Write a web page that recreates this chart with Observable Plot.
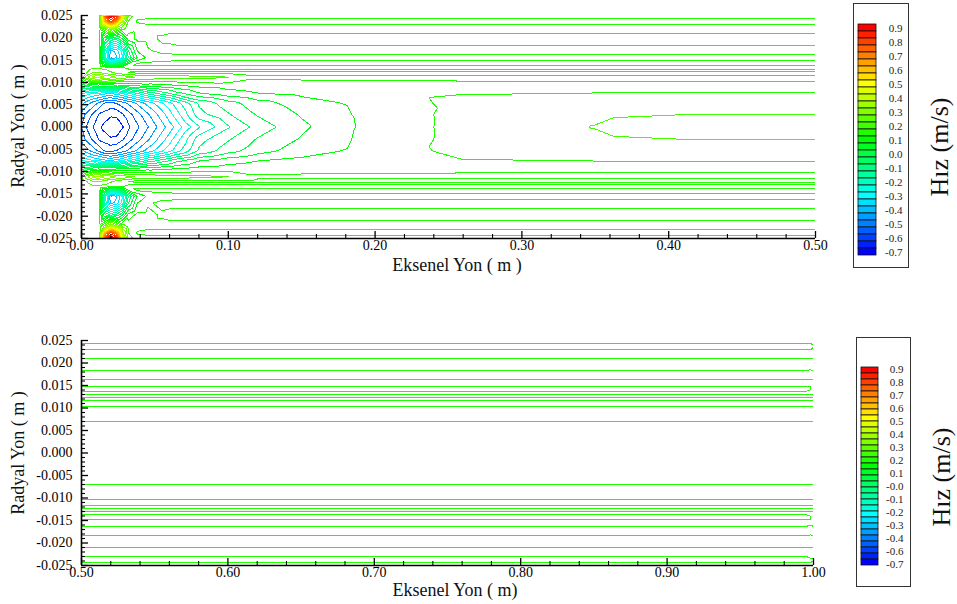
<!DOCTYPE html>
<html><head><meta charset="utf-8">
<script src="https://cdn.jsdelivr.net/npm/d3@7"></script>
<script src="https://cdn.jsdelivr.net/npm/@observablehq/plot@0.6"></script>
<style>
body{margin:0;background:#fff;}
#page{position:relative;width:957px;height:604px;font-family:"Liberation Serif","Times New Roman",serif;overflow:hidden;background:#fff}
.box{position:absolute}
.box svg{position:absolute;left:0;top:0;max-width:none}
.lbl{position:absolute;white-space:nowrap;color:#111;transform:translate(-50%,-50%)}
.rot{transform:translate(-50%,-50%) rotate(-90deg)}
</style></head><body><div id="page"></div>
<script>
// contour levels (legend bands)
const levels = [-0.7,-0.65,-0.6,-0.55,-0.5,-0.45,-0.4,-0.35,-0.3,-0.25,-0.2,-0.15,-0.1,-0.05,0,0.05,0.1,0.15,0.2,0.25,0.3,0.35,0.4,0.45,0.5,0.55,0.6,0.65,0.7,0.75,0.8,0.85,0.9];
const topLegendLabels = ["0.9","0.8","0.7","0.6","0.5","0.4","0.3","0.2","0.1","0.0","-0.1","-0.2","-0.3","-0.4","-0.5","-0.6","-0.7"];
const bottomLegendLabels = ["0.9","0.8","0.7","0.6","0.5","0.4","0.3","0.2","0.1","-0.0","-0.1","-0.2","-0.3","-0.4","-0.6","-0.7"];
const colorStops = [-0.7,-0.3,0.1,0.5,0.9];
const colorRange = ["#0000ff","#00ffff","#00ff00","#ffff00","#ff0000"];

// radial nodes (upper half; field is symmetric about the axis)
const rNodes = [0,0.0028,0.0054,0.0075,0.0092,0.0112,0.0121,0.0127,0.0133,0.0141,0.0155,0.017,0.0197,0.0222,0.0238,0.025];

// top panel: axial positions and velocity read at each radial node
const xTop = [0,0.004,0.008,0.012,0.016,0.02,0.024,0.028,0.032,0.038,0.045,0.055,0.065,0.08,0.1,0.12,0.15,0.19,0.22,0.26,0.3,0.35,0.4,0.5];
const uTop = [
 [-0.5,-0.47,-0.38,-0.25,-0.05,0.17,0.17,0.17,0.17,0.17,0.17,0.17,0.17,0.17,0.17,0.17],
 [-0.56,-0.52,-0.43,-0.28,-0.02,0.3,0.205,0.19,0.18,0.17,0.17,0.17,0.17,0.17,0.17,0.17],
 [-0.6,-0.56,-0.47,-0.305,0.005,0.38,0.26,0.22,0.19,0.17,0.17,0.17,0.17,0.17,0.17,0.17],
 [-0.64,-0.605,-0.51,-0.32,0.01,0.39,0.26,0.22,0.19,0.18,0.17,0.17,0.17,0.17,0.18,0.18],
 [-0.67,-0.62,-0.555,-0.34,0.01,0.36,0.23,0.21,0.18,0.04,-0.22,-0.21,-0.04,0.27,0.64,0.8],
 [-0.695,-0.64,-0.565,-0.355,0.01,0.33,0.21,0.19,0.17,-0.12,-0.46,-0.42,-0.12,0.38,0.84,0.96],
 [-0.69,-0.635,-0.545,-0.33,0.02,0.31,0.19,0.17,0.16,-0.08,-0.4,-0.38,-0.08,0.3,0.7,0.88],
 [-0.655,-0.605,-0.52,-0.305,0.03,0.29,0.17,0.165,0.155,0.0,-0.3,-0.28,0.0,0.22,0.38,0.48],
 [-0.61,-0.57,-0.49,-0.26,0.04,0.27,0.145,0.16,0.14,0.12,-0.1,-0.05,0.12,0.18,0.2,0.24],
 [-0.56,-0.52,-0.44,-0.205,0.052,0.255,0.14,0.16,0.14,0.16,0.05,0.1,0.165,0.165,0.145,0.17],
 [-0.505,-0.46,-0.38,-0.14,0.06,0.245,0.14,0.16,0.14,0.16,0.11,0.145,0.16,0.16,0.14,0.165],
 [-0.42,-0.37,-0.305,-0.08,0.075,0.235,0.14,0.16,0.14,0.16,0.135,0.16,0.145,0.16,0.14,0.16],
 [-0.33,-0.27,-0.22,-0.02,0.09,0.225,0.14,0.16,0.14,0.16,0.14,0.16,0.14,0.16,0.14,0.16],
 [-0.205,-0.12,-0.09,0.045,0.11,0.215,0.14,0.16,0.14,0.16,0.14,0.16,0.14,0.16,0.14,0.16],
 [-0.105,-0.055,-0.02,0.08,0.12,0.205,0.14,0.16,0.14,0.16,0.14,0.16,0.14,0.16,0.14,0.16],
 [-0.03,0.005,0.03,0.098,0.125,0.16,0.14,0.16,0.14,0.16,0.14,0.16,0.14,0.16,0.14,0.16],
 [0.04,0.055,0.075,0.112,0.13,0.16,0.14,0.16,0.14,0.16,0.14,0.16,0.14,0.16,0.14,0.16],
 [0.105,0.108,0.113,0.125,0.135,0.16,0.14,0.16,0.14,0.16,0.14,0.16,0.14,0.16,0.14,0.16],
 [0.12,0.122,0.13,0.134,0.136,0.16,0.14,0.16,0.14,0.16,0.14,0.16,0.14,0.16,0.14,0.16],
 [0.18,0.178,0.172,0.148,0.138,0.16,0.14,0.16,0.14,0.16,0.14,0.16,0.14,0.16,0.14,0.16],
 [0.19,0.188,0.172,0.149,0.138,0.16,0.14,0.16,0.14,0.16,0.14,0.16,0.14,0.16,0.14,0.16],
 [0.201,0.195,0.172,0.151,0.138,0.16,0.14,0.16,0.14,0.16,0.14,0.16,0.14,0.16,0.14,0.16],
 [0.215,0.199,0.171,0.152,0.138,0.16,0.14,0.16,0.14,0.16,0.14,0.16,0.14,0.16,0.14,0.16],
 [0.23,0.1995,0.17,0.153,0.138,0.16,0.14,0.16,0.14,0.16,0.14,0.16,0.14,0.16,0.14,0.16]
];

// bottom panel
const xBottom = [0.5,0.995,1.0];
const uBottom = [
 [0.19,0.18,0.158,0.148,0.138,0.16,0.14,0.16,0.14,0.16,0.14,0.16,0.14,0.16,0.14,0.16],
 [0.19,0.18,0.158,0.148,0.138,0.16,0.14,0.16,0.14,0.16,0.14,0.16,0.14,0.16,0.14,0.16],
 [0.19,0.18,0.156,0.148,0.14,0.158,0.142,0.158,0.142,0.145,0.142,0.158,0.142,0.158,0.148,0.16]
];

const xMajorTop = [0,0.1,0.2,0.3,0.4,0.5];
const xMajorBottom = [0.5,0.6,0.7,0.8,0.9,1.0];
const yMajor = [-0.025,-0.02,-0.015,-0.01,-0.005,0,0.005,0.01,0.015,0.02,0.025];
const rDomain = [-0.025,0.025];

const xMinorTop = d3.range(1,25).filter(i => i % 5).map(i => i * 0.02);
const xMinorBottom = d3.range(1,25).filter(i => i % 5).map(i => 0.5 + i * 0.02);
const yMinor = d3.range(-24,25).filter(i => i % 5).map(i => i / 1000);

const colorOpts = {type: "linear", domain: colorStops, range: colorRange, interpolate: "rgb", clamp: true};

function gridPoints(xs, cols) {
  const pts = [];
  xs.forEach((x, i) => rNodes.forEach((r, j) => {
    pts.push({x, r, u: cols[i][j]});
    if (r > 0) pts.push({x, r: -r, u: cols[i][j]});
  }));
  return pts;
}

function panel(xs, cols, xDomain, xMajor, xMinor, marginRight, height, marginBottom) {
  // the raster reaches a little past the frame so that contour closures along the edges are clipped away
  const padX = (xDomain[1] - xDomain[0]) * 0.01, padR = 0.0006;
  return Plot.plot({
    width: 830, height, marginLeft: 81, marginRight, marginTop: 15, marginBottom,
    x: {domain: xDomain},
    y: {domain: rDomain},
    color: colorOpts,
    style: {fontFamily: "'Liberation Serif', 'Times New Roman', serif", fontSize: "14px", color: "#000", background: "transparent", overflow: "visible"},
    marks: [
      Plot.contour(gridPoints(xs, cols), {x: "x", y: "r", value: "u", thresholds: levels, interpolate: "barycentric", pixelSize: 1,
        x1: xDomain[0] - padX, x2: xDomain[1] + padX, y1: rDomain[0] - padR, y2: rDomain[1] + padR, clip: true,
        stroke: "value", strokeWidth: 1, fill: "none", shapeRendering: "crispEdges"}),
      Plot.ruleY([rDomain[0]], {stroke: "#000", strokeWidth: 1.6}),
      Plot.ruleX([xDomain[0]], {stroke: "#000", strokeWidth: 1.6}),
      Plot.axisX(xMajor, {anchor: "bottom", tickSize: -7, tickPadding: 9, strokeWidth: 1.3, tickFormat: d => d.toFixed(2), label: null}),
      Plot.axisX(xMinor, {anchor: "bottom", tickSize: -4, tickPadding: 0, strokeWidth: 1.1, tickFormat: () => "", label: null}),
      Plot.axisY(yMajor, {anchor: "left", tickSize: -7, tickPadding: 16, strokeWidth: 1.3, tickFormat: d => d.toFixed(3), label: null}),
      Plot.axisY(yMinor, {anchor: "left", tickSize: -4, tickPadding: 0, strokeWidth: 1.1, tickFormat: () => "", label: null})
    ]
  });
}

function legend(labels, w, h, bar, lab) {
  const desc = levels.slice().reverse();
  const div = document.createElement("div");
  div.className = "box";
  div.style.width = w + "px"; div.style.height = h + "px";
  div.style.outline = "1px solid #333"; div.style.outlineOffset = "-1px";
  const bars = Plot.plot({
    width: w, height: h, marginTop: bar[0], marginBottom: bar[1], marginLeft: bar[2], marginRight: bar[3],
    y: {type: "band", domain: desc, padding: 0, axis: null},
    color: colorOpts,
    style: {background: "transparent"},
    marks: [Plot.cell(desc, {y: d => d, fill: d => d, stroke: "#111", strokeWidth: 0.8})]
  });
  const texts = Plot.plot({
    width: w, height: h, marginTop: lab[0], marginBottom: lab[1], marginLeft: 0, marginRight: lab[2],
    y: {type: "point", domain: labels, padding: 0, axis: null},
    style: {background: "transparent", fontFamily: "'Liberation Serif', 'Times New Roman', serif", color: "#222"},
    marks: [Plot.text(labels, {y: d => d, text: d => d, frameAnchor: "right", textAnchor: "end", fontSize: 11})]
  });
  div.append(bars, texts);
  return div;
}

const page = document.getElementById("page");
function place(el, left, top, w, h) {
  let d = el;
  if (el.tagName !== "DIV") { d = document.createElement("div"); d.className = "box"; d.style.width = w + "px"; d.style.height = h + "px"; d.append(el); }
  d.style.left = left + "px"; d.style.top = top + "px"; page.append(d);
}
function label(text, x, y, size, rotate) {
  const d = document.createElement("div");
  d.className = "lbl" + (rotate ? " rot" : "");
  d.textContent = text; d.style.left = x + "px"; d.style.top = y + "px"; d.style.fontSize = size + "px";
  page.append(d);
}

place(panel(xTop, uTop, [0, 0.5], xMajorTop, xMinorTop, 15, 275, 37), 0, 0, 830, 275);
place(panel(xBottom, uBottom, [0.5, 1.0], xMajorBottom, xMinorBottom, 17, 279, 39), 0, 325, 830, 279);

place(legend(topLegendLabels, 56, 265, [20, 13, 5, 33], [24, 15, 7]), 853, 3);
place(legend(bottomLegendLabels, 55, 250, [19, 12, 5, 33], [25, 16, 8]), 856, 337);

label("Eksenel Yon ( m )", 457, 265, 18, false);
label("Eksenel Yon ( m)", 455, 590, 18, false);
label("Radyal Yon ( m )", 18, 126, 18, true);
label("Radyal Yon ( m )", 18, 453, 18, true);
label("Hız (m/s)", 940, 147, 26, true);
label("Hız (m/s)", 942, 477, 26, true);
</script></body></html>
